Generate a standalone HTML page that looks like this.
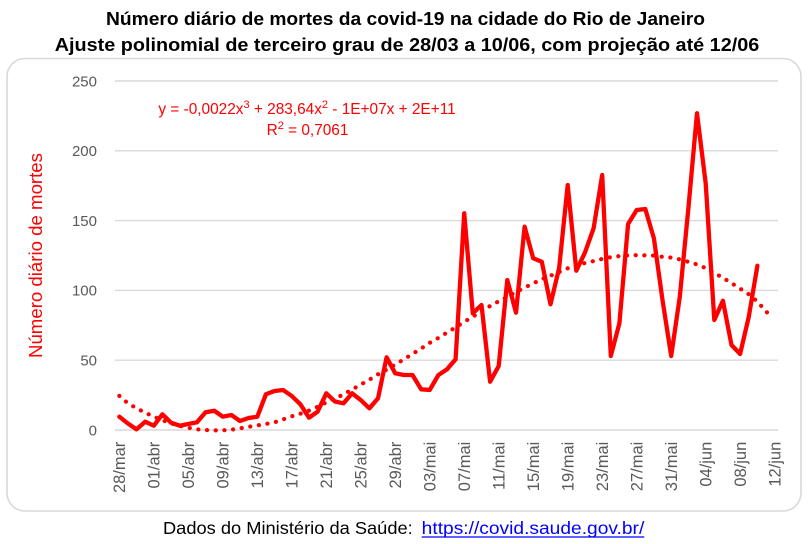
<!DOCTYPE html>
<html>
<head>
<meta charset="utf-8">
<style>
html,body{margin:0;padding:0;background:#fff;}
svg{display:block;}
</style>
</head>
<body>
<svg width="810" height="544" viewBox="0 0 810 544" xmlns="http://www.w3.org/2000/svg" font-family="'Liberation Sans', sans-serif">
<rect x="0" y="0" width="810" height="544" fill="#fff"/>
<!-- Titles -->
<text x="405.5" y="25" font-size="18" font-weight="bold" text-anchor="middle" textLength="599" lengthAdjust="spacingAndGlyphs" fill="#000">Número diário de mortes da covid-19 na cidade do Rio de Janeiro</text>
<text x="407" y="51" font-size="18" font-weight="bold" text-anchor="middle" textLength="704.5" lengthAdjust="spacingAndGlyphs" fill="#000">Ajuste polinomial de terceiro grau de 28/03 a 10/06, com projeção até 12/06</text>

<!-- Chart box -->
<rect x="7" y="58.5" width="794" height="452.5" rx="18" ry="18" fill="#fff" stroke="#d9d9d9" stroke-width="1.6"/>

<!-- Gridlines -->
<g stroke="#d9d9d9" stroke-width="1.4">
<line x1="115" y1="81" x2="778" y2="81"/>
<line x1="115" y1="150.8" x2="778" y2="150.8"/>
<line x1="115" y1="220.6" x2="778" y2="220.6"/>
<line x1="115" y1="290.4" x2="778" y2="290.4"/>
<line x1="115" y1="360.2" x2="778" y2="360.2"/>
<line x1="115" y1="430" x2="778" y2="430"/>
</g>

<!-- Y tick labels -->
<g font-size="15" fill="#595959" text-anchor="end">
<text x="97" y="86.3">250</text>
<text x="97" y="156.1">200</text>
<text x="97" y="225.9">150</text>
<text x="97" y="295.7">100</text>
<text x="97" y="365.5">50</text>
<text x="97" y="435.3">0</text>
</g>

<!-- Y axis title -->
<text transform="translate(42,255.5) rotate(-90)" font-size="18" fill="#ff0000" text-anchor="middle" textLength="205" lengthAdjust="spacingAndGlyphs">Número diário de mortes</text>

<!-- X tick labels -->
<g font-size="16.5" fill="#595959" text-anchor="end">
<text transform="translate(125.2,441.7) rotate(-90)">28/mar</text>
<text transform="translate(159.7,441.7) rotate(-90)">01/abr</text>
<text transform="translate(194.2,441.7) rotate(-90)">05/abr</text>
<text transform="translate(228.7,441.7) rotate(-90)">09/abr</text>
<text transform="translate(263.2,441.7) rotate(-90)">13/abr</text>
<text transform="translate(297.7,441.7) rotate(-90)">17/abr</text>
<text transform="translate(332.2,441.7) rotate(-90)">21/abr</text>
<text transform="translate(366.6,441.7) rotate(-90)">25/abr</text>
<text transform="translate(401.1,441.7) rotate(-90)">29/abr</text>
<text transform="translate(435.6,441.7) rotate(-90)">03/mai</text>
<text transform="translate(470.1,441.7) rotate(-90)">07/mai</text>
<text transform="translate(504.6,441.7) rotate(-90)">11/mai</text>
<text transform="translate(539.1,441.7) rotate(-90)">15/mai</text>
<text transform="translate(573.6,441.7) rotate(-90)">19/mai</text>
<text transform="translate(608.1,441.7) rotate(-90)">23/mai</text>
<text transform="translate(642.6,441.7) rotate(-90)">27/mai</text>
<text transform="translate(677.1,441.7) rotate(-90)">31/mai</text>
<text transform="translate(711.6,441.7) rotate(-90)">04/jun</text>
<text transform="translate(746.0,441.7) rotate(-90)">08/jun</text>
<text transform="translate(780.5,441.7) rotate(-90)">12/jun</text>
</g>

<!-- Data series -->
<polyline fill="none" stroke="#ff0000" stroke-width="4.3" stroke-linejoin="round" stroke-linecap="round" points="
119.3,416.7 127.9,423.5 136.5,429.3 145.2,421.7 153.8,425.7 162.4,414.3 171.0,422.7 179.7,425.7 188.3,424 196.9,422.3
205.5,412.3 214.2,410.7 222.8,416.7 231.4,415 240.0,421 248.6,418 257.3,416.7 265.9,394.3 274.5,391 283.1,390
291.8,396 300.4,404.3 309.0,417.7 317.6,411.7 326.3,393.3 334.9,401.5 343.5,403.3 352.1,393.3 360.7,400 369.4,408.3
378.0,398.3 386.6,357.3 395.2,373.3 403.9,375 412.5,375 421.1,389.3 429.7,390 438.4,375 447.0,369.3 455.6,359.3
464.2,213.3 472.8,313.3 481.5,305 490.1,381.7 498.7,366 507.3,280 516.0,312.7 524.6,226.7 533.2,258.3 541.8,261.7
550.5,304.3 559.1,268.3 567.7,185 576.3,270.7 584.9,252.7 593.6,228.3 602.2,175 610.8,356 619.4,323.3 628.1,224
636.7,210 645.3,209 653.9,238.3 662.5,300 671.2,356 679.8,296.7 688.4,208 697.0,113.3 705.7,183.3 714.3,320
722.9,300.7 731.5,345 740.1,354 748.8,316.7 757.4,265.7"/>

<!-- Trendline (dotted) -->
<polyline fill="none" stroke="#ff0000" stroke-width="4.2" stroke-linecap="round" stroke-linejoin="round" stroke-dasharray="0.1 8.6" points="
119.3,395.9 127.9,403.3 136.5,408.2 145.2,412.7 153.8,416.7 162.4,420.2 171.0,423.3 179.7,425.8 188.3,427.8 196.9,429.3
205.5,430 214.2,430.4 222.8,430.3 231.4,429.7 240.0,428.3 248.6,426.8 257.3,425.4 265.9,424 274.5,422.3 283.1,419.4
291.8,416.3 300.4,413.7 309.0,410.6 317.6,406.8 326.3,402.4 334.9,398.6 343.5,394.4 352.1,389.5 360.7,384.6 369.4,379.7
378.0,374.3 386.6,369.6 395.2,364.6 403.9,359.3 412.5,353.9 421.1,348.6 429.7,342.8 438.4,337.9 447.0,332.6 455.6,327.4
464.2,321.8 472.8,316.7 481.5,311.3 490.1,306 498.7,301.3 507.3,296.9 516.0,292 524.6,287.6 533.2,283.4 541.8,279.2
550.5,275.7 559.1,272 567.7,268.3 576.3,265.6 584.9,263 593.6,261.1 602.2,258.9 610.8,257.2 619.4,256.1 628.1,255.4
636.7,255.2 645.3,255.4 653.9,255.6 662.5,256.8 671.2,257.6 679.8,259.4 688.4,261.8 697.0,264.4 705.7,268.1 714.3,273
722.9,277.8 731.5,283.1 740.1,288.6 748.8,294.3 757.4,301.6 766.0,311.3 769,314.5"/>

<!-- Equation -->
<g font-size="15.4" fill="#ff0000" text-anchor="middle">
<text x="307" y="114">y = -0,0022x<tspan font-size="11" dy="-6">3</tspan><tspan dy="6"> + 283,64x</tspan><tspan font-size="11" dy="-6">2</tspan><tspan dy="6"> - 1E+07x + 2E+11</tspan></text>
<text x="307.5" y="135">R<tspan font-size="11" dy="-6">2</tspan><tspan dy="6"> = 0,7061</tspan></text>
</g>

<!-- Footer -->
<text x="163" y="534" font-size="17.5" fill="#000" textLength="249.7" lengthAdjust="spacingAndGlyphs">Dados do Ministério da Saúde:</text>
<text x="421.7" y="534" font-size="17.5" fill="#0000ff" textLength="222.6" lengthAdjust="spacingAndGlyphs">https://covid.saude.gov.br/</text>
<line x1="421.7" y1="537" x2="644.3" y2="537" stroke="#0000ff" stroke-width="1.3"/>
</svg>
</body>
</html>
